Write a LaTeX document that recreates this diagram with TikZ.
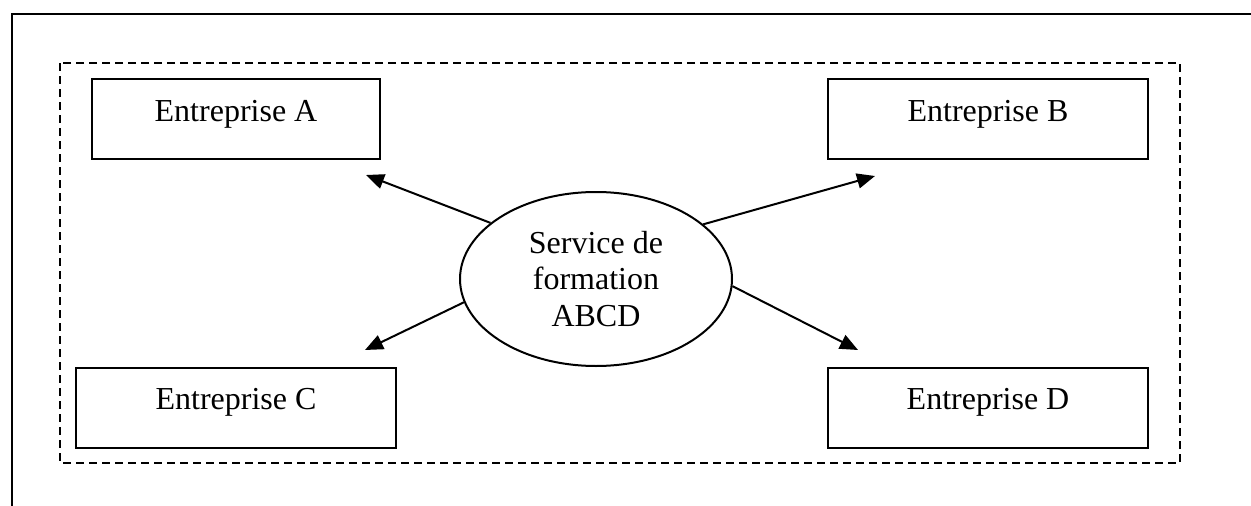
\documentclass[tikz,border=0pt]{standalone}
\usepackage{fontspec}
\setmainfont{Liberation Serif}
\usetikzlibrary{arrows.meta}
\usetikzlibrary{shapes.geometric}

\begin{document}
\begin{tikzpicture}[x=1pt, y=-1pt, line width=2pt,
	every node/.style = {font=\fontsize{32}{36.5}\selectfont},
	firm/.style = {draw, rectangle, inner sep=0pt, text height=42pt,
	text depth=38pt, minimum width=320pt},
	link/.style = {-{Triangle[length=18pt,width=15pt]}}]
\useasboundingbox (0,0) rectangle (1251,506);

% cadre
\draw (12,506) -- (12,14) -- (1251,14);
\draw[dash pattern=on 8pt off 5pt] (60,63) rectangle (1180,463);

\node[firm, minimum width=288pt] (A) at (236,119) {Entreprise A};
\node[firm] (B) at (988,119) {Entreprise B};
\node[firm] (C) at (236,407.5) {Entreprise C};
\node[firm] (D) at (988,407.5) {Entreprise D};

\node[draw, ellipse, inner sep=0pt, minimum width=272pt, minimum height=174pt,
	align=center] (S) at (596,279) {Service de\\formation\\ABCD};

\coordinate (toA) at (366,175);
\coordinate (toB) at (875,176);
\coordinate (toC) at (365,350);
\coordinate (toD) at (858,350);

\draw[link] (S.152) -- (toA);
\draw[link] (S.27.6) -- (toB);
\draw[link] (S.190) -- (toC);
\draw[link] (S.-3.8) -- (toD);
\end{tikzpicture}
\end{document}
